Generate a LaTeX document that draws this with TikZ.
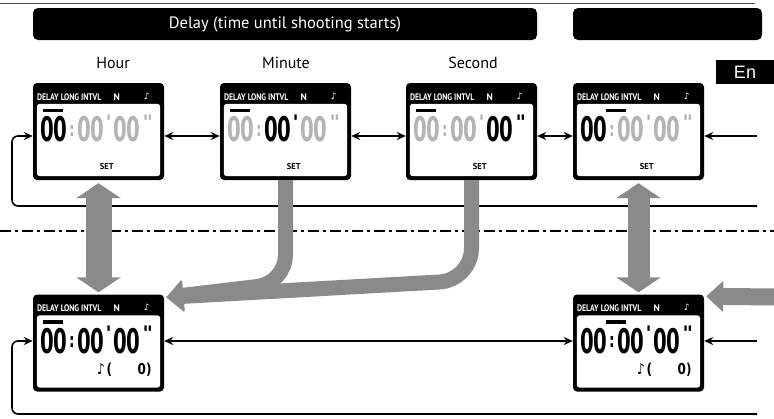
\documentclass[tikz,border=0pt]{standalone}
\usepackage{fontspec}
\setmainfont{PT Sans}
\newfontfamily\symfont{DejaVu Sans}
\newfontfamily\enfont{Liberation Sans}
\usetikzlibrary{arrows.meta,calc}
\definecolor{agray}{RGB}{138,138,138}
\definecolor{lgray}{RGB}{180,180,180}
\newcommand\lcdunit[7]{%
  \node[lcd] (#1) at (#2) {};
  \fill[white,rounded corners=3pt] ($(#1.north west)+(4,21)$) rectangle ($(#1.south east)+(-4,-4)$);
  \node[hdr,anchor=west] (#1-h) at ($(#1.north west)+(4,14)$) {\scalebox{0.82}[1]{DELAY LONG INTVL}};
  \node[hdr] (#1-n) at ($(#1.north west)+(84,14)$) {N};
  \node[hdr,font=\symfont\bfseries\fontsize{9}{9}\selectfont] (#1-m) at ($(#1.north west)+(114,13)$) {♪};
  \fill ($(#1.north west)+(#3,26)$) rectangle ++(20,3.5);
  \node[dig,text=#4] (#1-d1) at ($(#1.north west)+(21,46.5)$) {\scalebox{0.58}[1]{00}};
  \node[sep,text=#5] (#1-s1) at ($(#1.north west)+(39,48)$) {\scalebox{0.7}[1]{:}};
  \node[dig,text=#6] (#1-d2) at ($(#1.north west)+(58,46.5)$) {\scalebox{0.58}[1]{00}};
  \node[sep,text=#6] (#1-s2) at ($(#1.north west)+(76,39)$) {'};
  \node[dig,text=#7] (#1-d3) at ($(#1.north west)+(94,46.5)$) {\scalebox{0.58}[1]{00}};
  \node[sep,text=#7] (#1-s3) at ($(#1.north west)+(115,39)$) {"};
}
\begin{document}
\begin{tikzpicture}[x=1pt,y=-1pt,
  lcd/.style={fill=black,rounded corners=4pt,minimum width=131pt,minimum height=97pt,inner sep=0pt},
  hdr/.style={text=white,font=\bfseries\fontsize{9.5}{9.5}\selectfont,inner sep=0pt},
  dig/.style={font=\symfont\bfseries\fontsize{34}{34}\selectfont,inner sep=0pt},
  sep/.style={font=\symfont\bfseries\fontsize{20}{20}\selectfont,inner sep=0pt},
  setlbl/.style={font=\bfseries\fontsize{8.5}{8.5}\selectfont,inner sep=0pt},
  notelbl/.style={font=\symfont\bfseries\fontsize{15}{15}\selectfont,inner sep=0pt},
  conn/.style={line width=1.6pt,-{Stealth[length=9pt,width=8pt]}},
  conn2/.style={line width=1.6pt,{Stealth[length=9pt,width=8pt]}-{Stealth[length=9pt,width=8pt]}},
  bigdbl/.style={draw=agray,{Triangle[length=15pt,width=44pt]}-{Triangle[length=15pt,width=44pt]}},
  bigarr/.style={draw=agray,line width=15pt,-{Triangle[length=17pt,width=30pt]}},
  dashdot/.style={line width=2pt,dash pattern=on 11pt off 4pt on 3pt off 4pt},
  titlebar/.style={fill=black,rounded corners=5pt,minimum height=32pt,text=white,font=\fontsize{16.5}{16.5}\selectfont,inner sep=0pt},
  colhead/.style={font=\fontsize{16}{16}\selectfont,inner sep=0pt},
  enbox/.style={fill=black,minimum width=58pt,minimum height=24pt,text=white,font=\enfont\fontsize{18}{18}\selectfont,inner sep=0pt},
  thinrule/.style={line width=0.8pt,black!70}
]
\useasboundingbox (0,0) rectangle (774,418);

% top rule
\coordinate (tl) at (0,3);
\coordinate (tr) at (755,3);
\draw[thinrule] (tl) -- (tr);

% title bars
\node[titlebar,minimum width=504pt] (t1) at (285,24) {Delay (time until shooting starts)};
\node[titlebar,minimum width=189pt] (t2) at (667.5,24) {};
\node[enbox] (en) at (745,72) {En};

% column heads
\node[colhead] (hHour) at (113,63) {Hour};
\node[colhead] (hMin) at (286,63) {Minute};
\node[colhead] (hSec) at (473,63) {Second};

% LCD units
\lcdunit{b1}{98.5,131.5}{10}{black}{lgray}{lgray}{lgray}
\lcdunit{b2}{285.5,131.5}{10}{lgray}{lgray}{black}{lgray}
\lcdunit{b3}{471.5,131.5}{10}{lgray}{lgray}{lgray}{black}
\lcdunit{b4}{638.5,131.5}{33}{black}{lgray}{lgray}{lgray}
\lcdunit{b5}{98.5,343}{10}{black}{black}{black}{black}
\lcdunit{b6}{638.5,343}{33}{black}{black}{black}{black}

\foreach \b in {b1,b2,b3,b4}{
  \node[setlbl] (\b-set) at ($(\b.north west)+(74,84)$) {SET};
}
\foreach \b in {b5,b6}{
  \node[notelbl,anchor=west] (\b-nt) at ($(\b.north west)+(64,75)$) {\scalebox{0.8}[1]{♪\,(\hspace{32pt}0)}};
}

% rows
\coordinate (row1) at (0,136);
\coordinate (row2) at (0,341);
\coordinate (r1) at (757,136);
\coordinate (r2) at (757,341);
\coordinate (lp1) at (757,206);
\coordinate (lc1) at (12,206);
\coordinate (lp2) at (757,414);
\coordinate (lc2) at (12,414);

% black connectors
\draw[conn2] (b1.east |- row1) -- (b2.west |- row1);
\draw[conn2] (b2.east |- row1) -- (b3.west |- row1);
\draw[conn2] (b3.east |- row1) -- (b4.west |- row1);
\draw[conn] (r1) -- (b4.east |- row1);
\draw[conn,rounded corners=6pt] (lp1) -- (lc1) |- (b1.west |- row1);

\draw[conn2] (b5.east |- row2) -- (b6.west |- row2);
\draw[conn] (r2) -- (b6.east |- row2);
\draw[conn,rounded corners=6pt] (lp2) -- (lc2) |- (b5.west |- row2);

% dash-dot separator
\coordinate (dl) at (0,231);
\coordinate (dr) at (774,231);
\draw[dashdot] (dl) -- (dr);

% gray arrows
\draw[bigdbl,line width=26pt] ($(b1.south)+(0,3)$) -- ($(b5.north)+(0,-2)$);
\draw[bigdbl,line width=22pt] ($(b4.south)+(0,3)$) -- ($(b6.north)+(0,-2)$);
\coordinate (gtip) at ($(b5.north east)+(2,3)$);
\draw[bigarr,rounded corners=32pt] (b3.south) -- ++(0,100) -- (gtip);
\draw[bigarr,rounded corners=28pt] (b2.south) -- ++(0,103) -- (gtip);
\coordinate (gR) at (776,297);
\draw[bigarr,line width=17pt] (gR) -- ($(b6.north east)+(2,2)$);
\end{tikzpicture}
\end{document}
